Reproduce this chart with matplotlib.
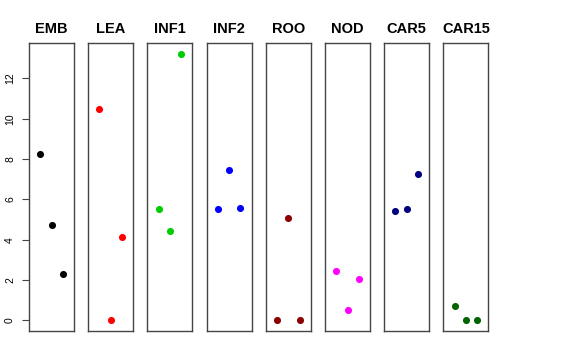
"""
Strip panels: three replicate values per tissue, one narrow panel each.
"""

import matplotlib
matplotlib.use("Agg")
import matplotlib.pyplot as plt
import numpy as np

TISSUES = ["EMB", "LEA", "INF1", "INF2", "ROO", "NOD", "CAR5", "CAR15"]
COLORS = ["#000000", "#FF0000", "#00CD00", "#0000FF", "#8B0000", "#FF00FF", "#000080", "#006400"]

EMB = [8.27, 4.75, 2.32]
LEA = [10.47, 0.0, 4.14]
INF1 = [5.52, 4.42, 13.23]
INF2 = [5.53, 7.48, 5.56]
ROO = [0.0, 5.08, 0.0]
NOD = [2.44, 0.49, 2.06]
CAR5 = [5.44, 5.54, 7.28]
CAR15 = [0.73, 0.0, 0.0]

VALUES = [EMB, LEA, INF1, INF2, ROO, NOD, CAR5, CAR15]
REPLICATE = [1, 2, 3]
YTICKS = [0, 2, 4, 6, 8, 10, 12]

plt.rcParams["font.family"] = ["Liberation Sans", "DejaVu Sans"]

fig = plt.figure(figsize=(5.76, 3.6), dpi=100)

left0 = 29 / 576
width = 45 / 576
step = 59.2 / 576
bottom = 1 - 331 / 360
height = (331 - 43) / 360

ymax = max(max(v) for v in VALUES)
ylim = (-0.04 * ymax, ymax * 1.04)

for i, (name, vals, col) in enumerate(zip(TISSUES, VALUES, COLORS)):
    ax = fig.add_axes([left0 + i * step, bottom, width, height])
    ax.scatter(REPLICATE, vals, s=26, color=col, zorder=3, linewidths=0)
    ax.set_xlim(0, 4)
    ax.set_ylim(*ylim)
    ax.set_xticks([])
    for sp in ax.spines.values():
        sp.set_color("#444444")
        sp.set_linewidth(1.0)
    ax.set_title(name, fontsize=10.5, fontweight="bold", pad=7)
    if i == 0:
        ax.set_yticks(YTICKS)
        ax.set_yticklabels([str(t) for t in YTICKS], rotation=90, va="center", fontsize=7.5)
        ax.tick_params(axis="y", length=5, width=0.8, pad=5, color="#444444")
    else:
        ax.set_yticks([])

fig.savefig("out.png", dpi=100)
